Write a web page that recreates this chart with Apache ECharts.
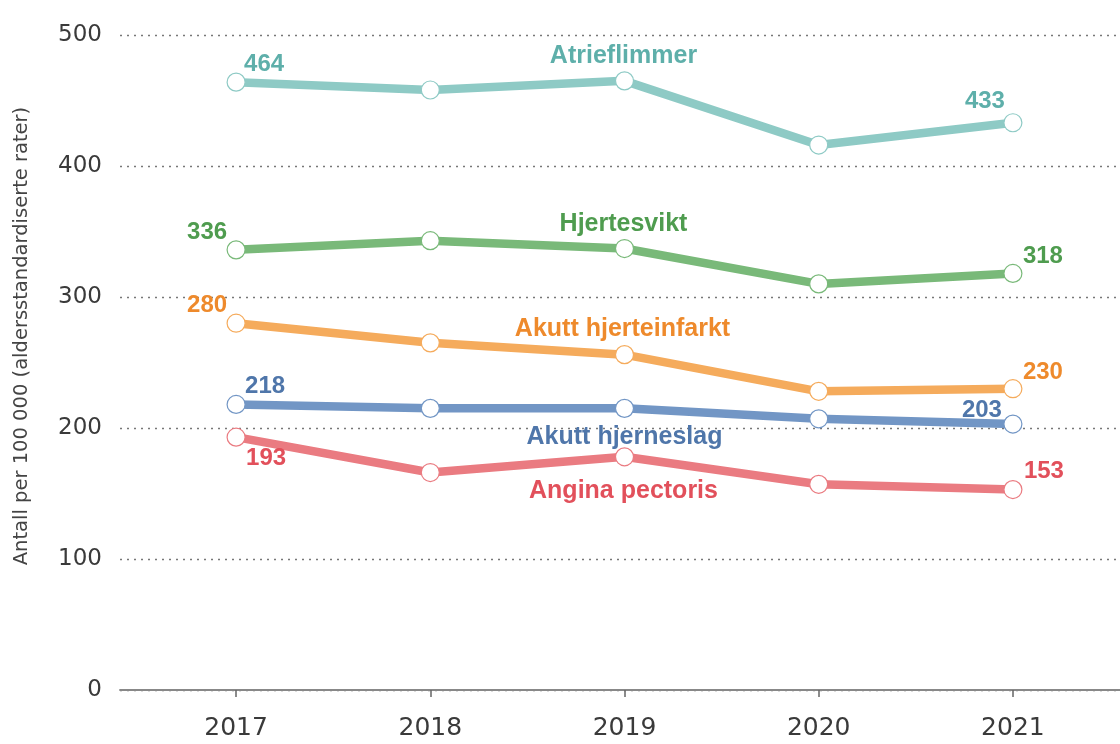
<!DOCTYPE html>
<html>
<head>
<meta charset="utf-8">
<script src="https://cdn.jsdelivr.net/npm/echarts@6/dist/echarts.min.js"></script>
<style>html,body{margin:0;padding:0;background:#fff;}#c{width:1120px;height:744px;}</style>
</head>
<body>
<div id="c"></div>
<script>
const years = ['2017', '2018', '2019', '2020', '2021'];
const yTicks = [0, 100, 200, 300, 400, 500];
const seriesNames = ['Atrieflimmer', 'Hjertesvikt', 'Akutt hjerteinfarkt', 'Akutt hjerneslag', 'Angina pectoris'];
const atrieflimmer = [464, 458, 465, 416, 433];
const hjertesvikt = [336, 343, 337, 310, 318];
const hjerteinfarkt = [280, 265, 256, 228, 230];
const hjerneslag = [218, 215, 215, 207, 203];
const angina = [193, 166, 178, 157, 153];

const lineColors = ['#8ecac5', '#79b979', '#f5ab5c', '#7296c5', '#ea7b81'];
const textColors = ['#5eafaa', '#4f9c4f', '#ee8a2c', '#4f76aa', '#e2505b'];
// label offsets [first, middle(name), last]
const labelOffsets = [
  [[28, -18], [-1, -25], [-28, -21]],
  [[-29, -17], [-1, -24], [30, -17]],
  [[-29, -18], [-2, -26], [30, -16]],
  [[29, -18], [0, 29], [-31, -14]],
  [[30, 21], [-1, 34], [31, -18]]
];
const allData = [atrieflimmer, hjertesvikt, hjerteinfarkt, hjerneslag, angina];

const chart = echarts.init(document.getElementById('c'));
const FONT = '"Liberation Sans", Arial, sans-serif';
const AXFONT = '"DejaVu Sans", sans-serif';

const series = allData.map((vals, si) => ({
  type: 'line',
  name: seriesNames[si],
  xAxisIndex: 1,
  yAxisIndex: 1,
  data: vals.map((v, i) => {
    const item = { value: v };
    let show = false, text = '', off = [0, 0], size = 24;
    if (i === 0) { show = true; text = String(v); off = labelOffsets[si][0]; }
    else if (i === 2) { show = true; text = seriesNames[si]; off = labelOffsets[si][1]; size = 25; }
    else if (i === 4) { show = true; text = String(v); off = labelOffsets[si][2]; }
    item.label = {
      show: show,
      position: 'inside',
      offset: off,
      formatter: text,
      color: textColors[si],
      fontFamily: FONT,
      fontWeight: 'bold',
      fontSize: size
    };
    return item;
  }),
  lineStyle: { color: lineColors[si], width: 8.5 },
  itemStyle: { color: '#fff', borderColor: lineColors[si], borderWidth: 1.2 },
  symbol: 'circle',
  symbolSize: 18,
  showSymbol: true,
  z: 3 + si,
  animation: false
}));

chart.setOption({
  backgroundColor: '#fff',
  animation: false,
  grid: [
    { left: 120, right: 0, top: 35, bottom: 54 },
    { left: 139, right: 10, top: 35, bottom: 54 }
  ],
  xAxis: [
    {
      gridIndex: 0, type: 'value', min: 0, max: 1,
      axisLine: { show: true, lineStyle: { color: '#888', width: 1.8 } },
      axisTick: { show: false }, axisLabel: { show: false }, splitLine: { show: false }
    },
    {
      gridIndex: 1, type: 'category', data: years, boundaryGap: true,
      axisLine: { show: false },
      axisTick: { show: true, alignWithLabel: true, length: 7, lineStyle: { color: '#666', width: 1.5 } },
      axisLabel: { color: '#3a3a3a', fontSize: 25, fontFamily: AXFONT, margin: 26 },
      splitLine: { show: false }
    }
  ],
  yAxis: [
    {
      gridIndex: 0, type: 'value', min: 0, max: 500, interval: 100,
      axisLine: { show: false }, axisTick: { show: false },
      axisLabel: { color: '#3a3a3a', fontSize: 23, fontFamily: AXFONT, margin: 18 },
      splitLine: { show: true, lineStyle: { color: '#777', type: [2, 5], width: 1.3 } }
    },
    {
      gridIndex: 1, type: 'value', min: 0, max: 500, interval: 100, show: false,
      splitLine: { show: false }
    }
  ],
  graphic: [
    {
      type: 'text',
      x: 22, y: 336,
      rotation: Math.PI / 2,
      style: {
        text: 'Antall per 100 000 (aldersstandardiserte rater)',
        fill: '#444',
        font: '19.5px ' + AXFONT,
        align: 'center',
        verticalAlign: 'middle'
      }
    }
  ],
  series: series
});
</script>
</body>
</html>
